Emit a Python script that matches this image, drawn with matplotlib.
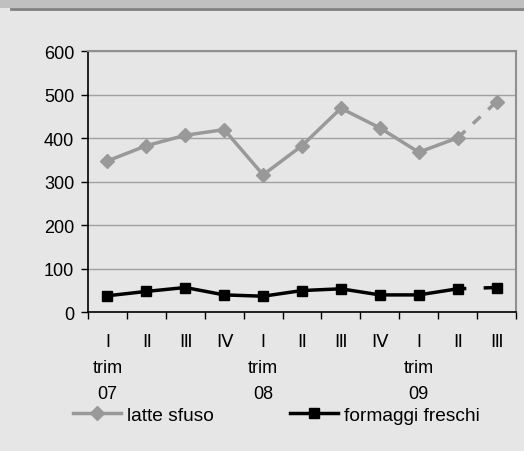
import matplotlib.pyplot as plt
from matplotlib.patches import Rectangle
from matplotlib.lines import Line2D

plt.rcParams['font.family'] = ['Liberation Sans', 'DejaVu Sans']

# quarters 2007-2009
quarters = ['I\ntrim\n07', 'Ⅱ', 'Ⅲ', 'Ⅳ', 'I\ntrim\n08', 'Ⅱ', 'Ⅲ', 'Ⅳ', 'I\ntrim\n09', 'Ⅱ', 'Ⅲ']
latte_sfuso = [348, 383, 407, 420, 316, 383, 469, 424, 368, 401, 484]
formaggi_freschi = [38, 48, 57, 40, 37, 50, 54, 40, 40, 54, 57]

bg = '#e6e6e6'
grey = '#999999'
fs = 13

fig = plt.figure(figsize=(5.24, 4.52), dpi=100, facecolor=bg)
# header band
fig.patches.append(Rectangle((0, 1 - 9 / 452), 1, 9 / 452, transform=fig.transFigure,
                             facecolor='#c0c0c0', edgecolor='none'))
fig.add_artist(Line2D([11 / 524, 1], [1 - 10 / 452] * 2, transform=fig.transFigure,
                      color='#808080', lw=2))

ax = fig.add_axes([88 / 524, 1 - 313.3 / 452, 428 / 524, 261 / 452])
ax.set_facecolor(bg)

x = list(range(len(quarters)))
ax.plot(x[:10], latte_sfuso[:10], color=grey, lw=2.5, marker='D', ms=7, zorder=3)
ax.plot(x[9:], latte_sfuso[9:], color=grey, lw=2.5, ls=(0, (3, 3)), zorder=3)
ax.plot(x[10], latte_sfuso[10], color=grey, marker='D', ms=7, zorder=3)

ax.plot(x[:10], formaggi_freschi[:10], color='black', lw=2.5, marker='s', ms=7, zorder=3)
ax.plot(x[9:], formaggi_freschi[9:], color='black', lw=2.5, ls=(0, (2.5, 5)), zorder=3)
ax.plot(x[10], formaggi_freschi[10], color='black', marker='s', ms=7, zorder=3)

ax.set_xlim(-0.5, len(quarters) - 0.5)
ax.set_ylim(0, 600)
ax.set_yticks(range(0, 601, 100))
ax.yaxis.grid(True, color='#a0a0a0', lw=1)
ax.set_axisbelow(True)

ax.set_xticks([i - 0.5 for i in range(len(quarters) + 1)])
ax.set_xticklabels([])
ax.set_xticks(x, minor=True)
ax.set_xticklabels(quarters, minor=True, fontsize=fs, linespacing=1.67, va='top')
ax.tick_params(axis='x', which='minor', length=0, pad=15)
ax.tick_params(axis='x', which='major', length=5, width=1, direction='out')
ax.tick_params(axis='y', length=5, width=1, labelsize=fs, pad=5)

for s in ['top', 'right']:
    ax.spines[s].set_color('#909090')
    ax.spines[s].set_linewidth(1.5)
for s in ['left', 'bottom']:
    ax.spines[s].set_color('black')
    ax.spines[s].set_linewidth(1.2)

handles = [Line2D([], [], color=grey, lw=2.5, marker='D', ms=7),
           Line2D([], [], color='black', lw=2.5, marker='s', ms=7)]
fig.legend(handles, ['latte sfuso', 'formaggi freschi'], loc='center left',
           bbox_to_anchor=(73 / 524, 1 - 416 / 452), ncol=2, frameon=False,
           borderpad=0, borderaxespad=0,
           fontsize=13.8, handlelength=2.5, handletextpad=0.3, columnspacing=4.0)

fig.savefig('out.png', dpi=100, facecolor=bg)
